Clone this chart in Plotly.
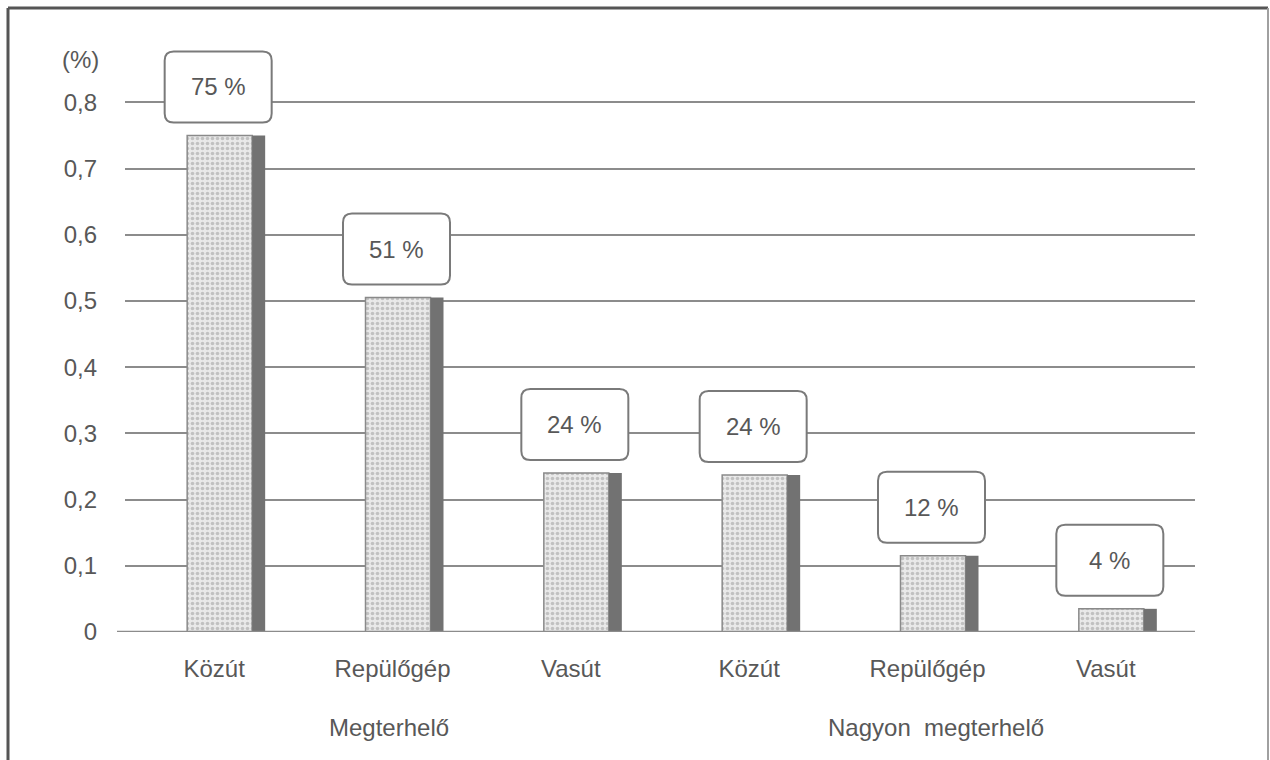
import plotly.graph_objects as go

categories = ["Közút", "Repülőgép", "Vasút", "Közút", "Repülőgép", "Vasút"]
values = [0.75, 0.505, 0.24, 0.237, 0.115, 0.035]
value_labels = ["75 %", "51 %", "24 %", "24 %", "12 %", "4 %"]
group_labels = ["Megterhelő", "Nagyon  megterhelő"]
group_positions = [1, 4]
y_ticks = [0, 0.1, 0.2, 0.3, 0.4, 0.5, 0.6, 0.7, 0.8]
y_tick_text = ["0", "0,1", "0,2", "0,3", "0,4", "0,5", "0,6", "0,7", "0,8"]
y_unit = "(%)"

W, H = 1270, 760
L, R, T, B = 125, 75, 46, 128
YMAX = 0.885
plot_w = W - L - R
plot_h = H - T - B
px_x = plot_w / len(categories)   # pixels per category unit
px_y = plot_h / YMAX              # pixels per data unit

FONT = "Liberation Sans, Arial, sans-serif"
FS = 24
TXT = "#585858"
GRID = "#8c8c8c"

x = list(range(len(categories)))

fig = go.Figure()
# main stippled bars
fig.add_trace(go.Bar(
    x=x, y=values,
    offset=-27 / px_x, width=65 / px_x,
    marker=dict(
        color="#e6e6e6",
        line=dict(color="#8a8a8a", width=1.5),
        pattern=dict(shape=".", fgcolor="#999999", bgcolor="#e9e9e9", size=5, solidity=0.4),
    ),
    hoverinfo="skip", showlegend=False,
))
# dark side "shadow"
fig.add_trace(go.Bar(
    x=x, y=values,
    offset=38 / px_x, width=13 / px_x,
    marker=dict(color="#727272", line=dict(width=0)),
    hoverinfo="skip", showlegend=False,
))

shapes = []
annotations = []
box_w = 107 / px_x
box_h = 71 / px_y
gap = 13 / px_y
rx = 9 / px_x
ry = 9 / px_y
for i, (v, lab) in enumerate(zip(values, value_labels)):
    cx = i + 4 / px_x
    x0, x1 = cx - box_w / 2, cx + box_w / 2
    y0, y1 = v + gap, v + gap + box_h
    path = (
        f"M {x0+rx},{y0} L {x1-rx},{y0} Q {x1},{y0} {x1},{y0+ry} "
        f"L {x1},{y1-ry} Q {x1},{y1} {x1-rx},{y1} "
        f"L {x0+rx},{y1} Q {x0},{y1} {x0},{y1-ry} "
        f"L {x0},{y0+ry} Q {x0},{y0} {x0+rx},{y0} Z"
    )
    shapes.append(dict(type="path", xref="x", yref="y", path=path,
                       fillcolor="white", line=dict(color="#7a7a7a", width=2), layer="above"))
    annotations.append(dict(x=cx, y=(y0 + y1) / 2, xref="x", yref="y", text=lab,
                            xanchor="center", yanchor="middle",
                            showarrow=False, font=dict(family=FONT, size=FS, color=TXT)))

for g, gx in zip(group_labels, group_positions):
    annotations.append(dict(x=gx, y=0, xref="x", yref="y", text=g, showarrow=False,
                            xanchor="center", yanchor="middle",
                            yshift=-95, xshift=(8 if gx == 4 else -4),
                            font=dict(family=FONT, size=FS, color=TXT)))

annotations.append(dict(x=(80 - L) / plot_w, y=(H - B - 59) / plot_h, xref="paper", yref="paper",
                        xanchor="center", yanchor="middle",
                        text=y_unit, showarrow=False, font=dict(family=FONT, size=FS, color=TXT)))

# zero baseline, extends a bit to the left
shapes.append(dict(type="line", xref="paper", yref="y", x0=(117 - L) / plot_w, x1=1, y0=0, y1=0,
                   line=dict(color=GRID, width=2.5), layer="above"))


def px2paper_x(p):
    return (p - L) / plot_w


def px2paper_y(p):
    return (H - B - p) / plot_h


# frame
shapes.append(dict(type="line", xref="paper", yref="paper", x0=px2paper_x(8), x1=px2paper_x(8),
                   y0=px2paper_y(8), y1=px2paper_y(760), line=dict(color="#555555", width=3)))
shapes.append(dict(type="line", xref="paper", yref="paper", x0=px2paper_x(8), x1=px2paper_x(1268),
                   y0=px2paper_y(8), y1=px2paper_y(8), line=dict(color="#555555", width=3)))
shapes.append(dict(type="line", xref="paper", yref="paper", x0=px2paper_x(1268), x1=px2paper_x(1268),
                   y0=px2paper_y(8), y1=px2paper_y(760), line=dict(color="#a0a0a0", width=2)))

fig.update_layout(
    width=W, height=H,
    margin=dict(l=L, r=R, t=T, b=B),
    paper_bgcolor="white", plot_bgcolor="white",
    barmode="overlay",
    shapes=shapes, annotations=annotations,
    font=dict(family=FONT, size=FS, color=TXT),
    xaxis=dict(range=[-0.5, len(categories) - 0.5], tickmode="array", tickvals=x, ticktext=categories,
               showgrid=False, zeroline=False, showline=False, ticks="", ticklabelstandoff=20,
               tickfont=dict(family=FONT, size=FS, color=TXT), fixedrange=True),
    yaxis=dict(range=[0, YMAX], tickmode="array", tickvals=y_ticks, ticktext=y_tick_text,
               showgrid=True, gridcolor=GRID, gridwidth=2, zeroline=False, showline=False,
               ticks="", ticklabelstandoff=27,
               tickfont=dict(family=FONT, size=FS, color=TXT), fixedrange=True),
)

fig.write_html("out.html")
